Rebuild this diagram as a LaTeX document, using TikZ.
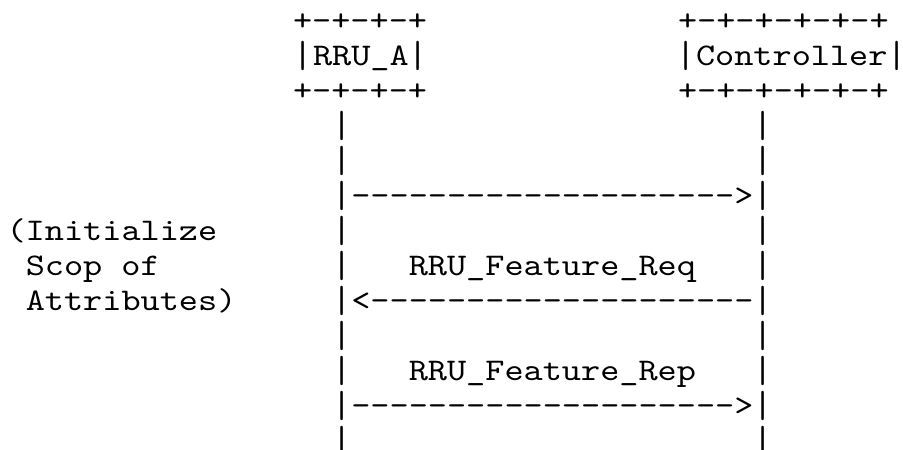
\documentclass[tikz,border=0pt]{standalone}
\usepackage{fontspec}
\usepackage{graphicx}
\newfontfamily\asciimono[Ligatures=TeXOff, FakeStretch=1.158]{lmmono10-regular.otf}
\tikzset{
  x=1pt, y=-1pt,
  txt/.style={anchor=base west, inner sep=0pt, outer sep=0pt,
    font=\asciimono\fontsize{31.5}{35}\selectfont},
}
\newcommand\colx[1]{6.6+#1*19.15}
\newcommand\dashten{----------}
\newcommand\vb{\raisebox{-0.07em}{\scalebox{1}[1.2]{|}}}
\begin{document}
\begin{tikzpicture}
\useasboundingbox (0,0) rectangle (903,450);
% participant boxes
\node[txt] (rtop) at (293,30) {\hbox to 127pt{+\hfil-\hfil+\hfil-\hfil+\hfil-\hfil+}};
\node[txt] (ctop) at (678,30) {\hbox to 206pt{+\hfil-\hfil+\hfil-\hfil+\hfil-\hfil+\hfil-\hfil+\hfil-\hfil+}};
\node[txt] (rname) at ({\colx{15}},65) {\vb RRU\textunderscore A\vb};
\node[txt] (cname) at ({\colx{35}},65) {\vb Controller\hbox to 10pt{\vb\hss}};
\node[txt] (rbot) at (293,100) {\hbox to 127pt{+\hfil-\hfil+\hfil-\hfil+\hfil-\hfil+}};
\node[txt] (cbot) at (678,100) {\hbox to 206pt{+\hfil-\hfil+\hfil-\hfil+\hfil-\hfil+\hfil-\hfil+\hfil-\hfil+}};
% lifeline rows
\foreach \r/\y in {4/135,5/170,7/240,8/275,10/345,11/380,13/450}{
  \node[txt] (ra\r) at ({\colx{17}},\y) {\vb};
  \node[txt] (ca\r) at ({\colx{39}},\y) {\vb};
}
% messages
\node[txt] (m1) at ({\colx{17}},205) {\vb\dashten\dashten>\vb};
\node[txt] (req) at ({\colx{21}},275) {RRU\textunderscore Feature\textunderscore Req};
\node[txt] (m2) at ({\colx{17}},310) {\vb<\dashten\dashten\vb};
\node[txt] (rep) at ({\colx{21}},380) {RRU\textunderscore Feature\textunderscore Rep};
\node[txt] (m3) at ({\colx{17}},415) {\vb\dashten\dashten>\vb};
% side note
\node[txt] (n1) at ({\colx{0}},240) {(Initialize};
\node[txt] (n2) at ({\colx{1}},275) {Scop of};
\node[txt] (n3) at ({\colx{1}},310) {Attributes)};
\end{tikzpicture}
\end{document}
